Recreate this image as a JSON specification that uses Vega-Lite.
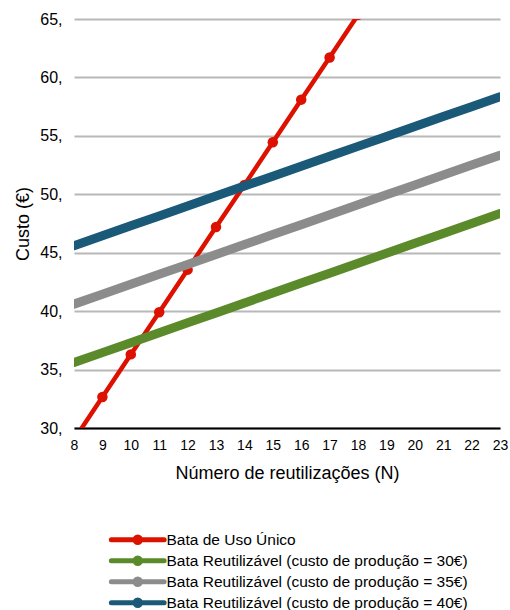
{
  "$schema": "https://vega.github.io/schema/vega-lite/v6.json",
  "width": 426,
  "height": 409,
  "autosize": "none",
  "padding": {"left": 74, "top": 19, "right": 10, "bottom": 182},
  "background": "white",
  "config": {
    "font": "Liberation Sans",
    "view": {"stroke": null}
  },
  "data": {
    "values": [
      {"N": 8, "s": "Bata de Uso Único", "v": 29.0},
      {"N": 9, "s": "Bata de Uso Único", "v": 32.65},
      {"N": 10, "s": "Bata de Uso Único", "v": 36.3},
      {"N": 11, "s": "Bata de Uso Único", "v": 39.9},
      {"N": 12, "s": "Bata de Uso Único", "v": 43.55},
      {"N": 13, "s": "Bata de Uso Único", "v": 47.2},
      {"N": 14, "s": "Bata de Uso Único", "v": 50.8},
      {"N": 15, "s": "Bata de Uso Único", "v": 54.45},
      {"N": 16, "s": "Bata de Uso Único", "v": 58.1},
      {"N": 17, "s": "Bata de Uso Único", "v": 61.7},
      {"N": 18, "s": "Bata de Uso Único", "v": 65.35},
      {"N": 8, "s": "Bata Reutilizável (custo de produção = 30€)", "v": 35.6},
      {"N": 9, "s": "Bata Reutilizável (custo de produção = 30€)", "v": 36.45},
      {"N": 10, "s": "Bata Reutilizável (custo de produção = 30€)", "v": 37.3},
      {"N": 11, "s": "Bata Reutilizável (custo de produção = 30€)", "v": 38.15},
      {"N": 12, "s": "Bata Reutilizável (custo de produção = 30€)", "v": 39.0},
      {"N": 13, "s": "Bata Reutilizável (custo de produção = 30€)", "v": 39.85},
      {"N": 14, "s": "Bata Reutilizável (custo de produção = 30€)", "v": 40.7},
      {"N": 15, "s": "Bata Reutilizável (custo de produção = 30€)", "v": 41.55},
      {"N": 16, "s": "Bata Reutilizável (custo de produção = 30€)", "v": 42.4},
      {"N": 17, "s": "Bata Reutilizável (custo de produção = 30€)", "v": 43.25},
      {"N": 18, "s": "Bata Reutilizável (custo de produção = 30€)", "v": 44.1},
      {"N": 19, "s": "Bata Reutilizável (custo de produção = 30€)", "v": 44.95},
      {"N": 20, "s": "Bata Reutilizável (custo de produção = 30€)", "v": 45.8},
      {"N": 21, "s": "Bata Reutilizável (custo de produção = 30€)", "v": 46.65},
      {"N": 22, "s": "Bata Reutilizável (custo de produção = 30€)", "v": 47.5},
      {"N": 23, "s": "Bata Reutilizável (custo de produção = 30€)", "v": 48.35},
      {"N": 8, "s": "Bata Reutilizável (custo de produção = 35€)", "v": 40.6},
      {"N": 9, "s": "Bata Reutilizável (custo de produção = 35€)", "v": 41.45},
      {"N": 10, "s": "Bata Reutilizável (custo de produção = 35€)", "v": 42.3},
      {"N": 11, "s": "Bata Reutilizável (custo de produção = 35€)", "v": 43.15},
      {"N": 12, "s": "Bata Reutilizável (custo de produção = 35€)", "v": 44.0},
      {"N": 13, "s": "Bata Reutilizável (custo de produção = 35€)", "v": 44.85},
      {"N": 14, "s": "Bata Reutilizável (custo de produção = 35€)", "v": 45.7},
      {"N": 15, "s": "Bata Reutilizável (custo de produção = 35€)", "v": 46.55},
      {"N": 16, "s": "Bata Reutilizável (custo de produção = 35€)", "v": 47.4},
      {"N": 17, "s": "Bata Reutilizável (custo de produção = 35€)", "v": 48.25},
      {"N": 18, "s": "Bata Reutilizável (custo de produção = 35€)", "v": 49.1},
      {"N": 19, "s": "Bata Reutilizável (custo de produção = 35€)", "v": 49.95},
      {"N": 20, "s": "Bata Reutilizável (custo de produção = 35€)", "v": 50.8},
      {"N": 21, "s": "Bata Reutilizável (custo de produção = 35€)", "v": 51.65},
      {"N": 22, "s": "Bata Reutilizável (custo de produção = 35€)", "v": 52.5},
      {"N": 23, "s": "Bata Reutilizável (custo de produção = 35€)", "v": 53.35},
      {"N": 8, "s": "Bata Reutilizável (custo de produção = 40€)", "v": 45.6},
      {"N": 9, "s": "Bata Reutilizável (custo de produção = 40€)", "v": 46.45},
      {"N": 10, "s": "Bata Reutilizável (custo de produção = 40€)", "v": 47.3},
      {"N": 11, "s": "Bata Reutilizável (custo de produção = 40€)", "v": 48.15},
      {"N": 12, "s": "Bata Reutilizável (custo de produção = 40€)", "v": 49.0},
      {"N": 13, "s": "Bata Reutilizável (custo de produção = 40€)", "v": 49.85},
      {"N": 14, "s": "Bata Reutilizável (custo de produção = 40€)", "v": 50.7},
      {"N": 15, "s": "Bata Reutilizável (custo de produção = 40€)", "v": 51.55},
      {"N": 16, "s": "Bata Reutilizável (custo de produção = 40€)", "v": 52.4},
      {"N": 17, "s": "Bata Reutilizável (custo de produção = 40€)", "v": 53.25},
      {"N": 18, "s": "Bata Reutilizável (custo de produção = 40€)", "v": 54.1},
      {"N": 19, "s": "Bata Reutilizável (custo de produção = 40€)", "v": 54.95},
      {"N": 20, "s": "Bata Reutilizável (custo de produção = 40€)", "v": 55.8},
      {"N": 21, "s": "Bata Reutilizável (custo de produção = 40€)", "v": 56.65},
      {"N": 22, "s": "Bata Reutilizável (custo de produção = 40€)", "v": 57.5},
      {"N": 23, "s": "Bata Reutilizável (custo de produção = 40€)", "v": 58.35}
    ]
  },
  "encoding": {
    "x": {
      "field": "N", "type": "quantitative",
      "scale": {"domain": [8, 23], "nice": false, "zero": false},
      "axis": {
        "values": [8,9,10,11,12,13,14,15,16,17,18,19,20,21,22,23],
        "title": "Número de reutilizações (N)",
        "titleFont": "Liberation Sans", "titleFontSize": 18, "titleFontWeight": "normal", "titleColor": "#000000",
        "titlePadding": 12,
        "labelFont": "Liberation Sans", "labelFontSize": 14, "labelColor": "#000000",
        "labelPadding": 10, "labelFlush": false, "labelOverlap": false,
        "ticks": false, "grid": false,
        "domainColor": "#000000", "domainWidth": 2
      }
    },
    "y": {
      "field": "v", "type": "quantitative",
      "scale": {"domain": [30, 65], "nice": false, "zero": false},
      "axis": {
        "values": [30,35,40,45,50,55,60,65],
        "format": "d",
        "labelExpr": "datum.label + ','",
        "title": "Custo (€)",
        "titleFont": "Liberation Sans", "titleFontSize": 18, "titleFontWeight": "normal", "titleColor": "#000000",
        "titlePadding": 7,
        "labelFont": "Liberation Sans", "labelFontSize": 16, "labelColor": "#000000",
        "labelPadding": 12,
        "ticks": false, "domain": false,
        "grid": true, "gridColor": "#b8b8b8", "gridWidth": 2
      }
    },
    "color": {
      "field": "s", "type": "nominal",
      "scale": {"domain": ["Bata de Uso Único", "Bata Reutilizável (custo de produção = 30€)", "Bata Reutilizável (custo de produção = 35€)", "Bata Reutilizável (custo de produção = 40€)"],
                "range": ["#dd1100", "#5b8a2a", "#8c8c8c", "#1a5a78"]},
      "legend": {
        "orient": "none",
        "legendX": 56,
        "legendY": 513,
        "title": null,
        "direction": "vertical",
        "symbolType": "M-6.6,0H6.6M-0.68,0A0.68,0.68,0,1,1,0.68,0A0.68,0.68,0,1,1,-0.68,0Z",
        "symbolSize": 64,
        "symbolStrokeWidth": 5,
        "symbolOpacity": 1,
        "labelOffset": 21,
        "labelFont": "Liberation Sans",
        "labelFontSize": 15.5,
        "labelColor": "#000000",
        "labelLimit": 400,
        "rowPadding": -7,
        "padding": 0,
        "encode": {"symbols": {"update": {"fill": {"scale": "color", "field": "value"}, "fillOpacity": {"value": 1}, "stroke": {"scale": "color", "field": "value"}, "strokeCap": {"value": "round"}}}}
      }
    }
  },
  "layer": [
    {
      "transform": [{"filter": "datum.s === 'Bata de Uso Único'"}],
      "mark": {"type": "line", "clip": true, "strokeWidth": 4.5, "strokeCap": "round"}
    },
    {
      "transform": [{"filter": "datum.s === 'Bata de Uso Único'"}],
      "mark": {"type": "point", "clip": true, "filled": true, "opacity": 1, "size": 110, "shape": "circle"}
    },
    {
      "transform": [{"filter": "datum.s !== 'Bata de Uso Único'"}],
      "mark": {"type": "line", "clip": true, "strokeWidth": 9, "strokeCap": "round"}
    }
  ]
}
